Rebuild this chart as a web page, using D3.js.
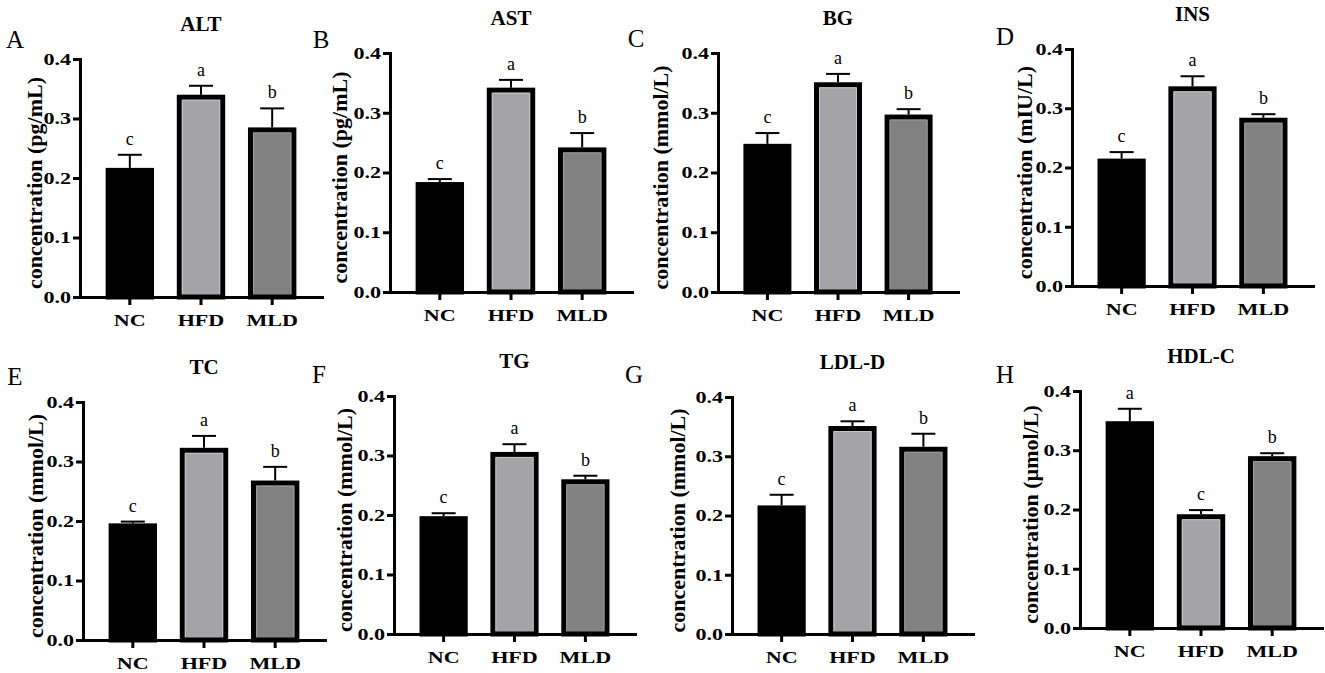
<!DOCTYPE html>
<html>
<head>
    <meta charset="utf-8">
    <title>Serum indices</title>
    <script src="https://d3js.org/d3.v7.min.js"></script>
    <style>
        body { margin: 0; background: #fff; }
        svg { display: block; }
        text { font-family: "Liberation Serif", "Times New Roman", serif; fill: #000; }
        .title { font-size: 21px; font-weight: bold; text-anchor: middle; }
        .ylabel { font-size: 22px; font-weight: bold; text-anchor: middle; }
        .panel-letter { font-size: 25px; text-anchor: middle; }
        .sig { font-size: 18px; text-anchor: middle; }
    </style>
</head>
<body>
    <svg width="1325" height="673"></svg>
    <script>
        // 数据
        const groups = ["NC", "HFD", "MLD"];
        const titles = ["ALT", "AST", "BG", "INS", "TC", "TG", "LDL-D", "HDL-C"];
        const panelLetters = ["A", "B", "C", "D", "E", "F", "G", "H"];
        const units = ["pg/mL", "pg/mL", "mmol/L", "mIU/L", "mmol/L", "mmol/L", "mmol/L", "µmol/L"];
        const yTicks = [0, 0.1, 0.2, 0.3, 0.4];
        const means = [
            [0.217, 0.340, 0.285],
            [0.184, 0.342, 0.242],
            [0.248, 0.351, 0.297],
            [0.215, 0.337, 0.284],
            [0.196, 0.323, 0.268],
            [0.198, 0.306, 0.260],
            [0.217, 0.351, 0.316],
            [0.349, 0.192, 0.290]
        ];
        const errs = [
            [0.022, 0.015, 0.032],
            [0.005, 0.013, 0.024],
            [0.018, 0.014, 0.009],
            [0.011, 0.017, 0.006],
            [0.003, 0.020, 0.023],
            [0.005, 0.013, 0.006],
            [0.018, 0.008, 0.022],
            [0.021, 0.007, 0.005]
        ];
        const sigLetters = [
            ["c", "a", "b"], ["c", "a", "b"], ["c", "a", "b"], ["c", "a", "b"],
            ["c", "a", "b"], ["c", "a", "b"], ["c", "a", "b"], ["a", "c", "b"]
        ];

        // 版面位置: y轴x, 0.4处y, 0处y, x轴末端, 面板字母位置, y标题偏移
        const layout = [
            { ax: 80,   top: 59,  bottom: 297, end: 322,  lx: 15,   ly: 48,  labDx: -46 },
            { ax: 390,  top: 53,  bottom: 292, end: 632,  lx: 321,  ly: 48,  labDx: -51 },
            { ax: 718,  top: 53,  bottom: 292, end: 958,  lx: 636,  ly: 47,  labDx: -58 },
            { ax: 1072, top: 49,  bottom: 286, end: 1313, lx: 1005, ly: 45,  labDx: -48 },
            { ax: 83,   top: 402, bottom: 640, end: 325,  lx: 15,   ly: 385, labDx: -48 },
            { ax: 394,  top: 396, bottom: 634, end: 635,  lx: 319,  ly: 383, labDx: -50 },
            { ax: 732,  top: 397, bottom: 634, end: 973,  lx: 634,  ly: 383, labDx: -55 },
            { ax: 1080, top: 391, bottom: 628, end: 1322, lx: 1005, ly: 383, labDx: -50 }
        ];

        const fills = { NC: "#000000", HFD: "#a4a4a8", MLD: "#818181" };
        const inner = { NC: "#000000", HFD: "#c6c6c8", MLD: "#9c9c9c" };
        const stretch = 1.3; // 原图文字横向拉伸

        const svg = d3.select("svg");

        titles.forEach((title, i) => {
            const L = layout[i];
            const g = svg.append("g");

            const y = d3.scaleLinear().domain([0, 0.4]).range([L.bottom, L.top]);
            const x = d3.scaleBand().domain(groups)
                .range([L.ax, L.end])
                .paddingInner(0.32)
                .paddingOuter(0.36);

            const rows = groups.map((gname, j) => ({
                g: gname, v: means[i][j], e: errs[i][j], s: sigLetters[i][j]
            }));
            const cx = d => x(d.g) + x.bandwidth() / 2;

            // 误差线
            const cap = 12;
            g.selectAll("line.err").data(rows).enter().append("line")
                .attr("x1", cx).attr("x2", cx)
                .attr("y1", d => y(d.v))
                .attr("y2", d => y(d.v + d.e))
                .attr("stroke", "#000").attr("stroke-width", 2);
            g.selectAll("line.cap").data(rows).enter().append("line")
                .attr("x1", d => cx(d) - cap)
                .attr("x2", d => cx(d) + cap)
                .attr("y1", d => y(d.v + d.e))
                .attr("y2", d => y(d.v + d.e))
                .attr("stroke", "#000").attr("stroke-width", 2);

            // 柱子
            g.selectAll("rect.bar").data(rows).enter().append("rect")
                .attr("x", d => x(d.g) + 2.5)
                .attr("y", d => y(d.v) + 2.5)
                .attr("width", x.bandwidth() - 5)
                .attr("height", d => y(0) - y(d.v) - 2.5)
                .attr("fill", d => fills[d.g])
                .attr("stroke", "#000")
                .attr("stroke-width", 5);
            // 内侧浅色描边(底边不画)
            g.selectAll("path.inner").data(rows.filter(d => d.g !== "NC")).enter().append("path")
                .attr("d", d => {
                    const x0 = x(d.g) + 5.5, x1 = x(d.g) + x.bandwidth() - 5.5;
                    const y0 = y(d.v) + 5.5, yb = y(0) - 3;
                    return `M${x0},${yb}V${y0}H${x1}V${yb}`;
                })
                .attr("fill", "none")
                .attr("stroke", d => inner[d.g])
                .attr("stroke-width", 1);

            // 显著性字母
            g.selectAll("text.sig").data(rows).enter().append("text")
                .attr("class", "sig")
                .attr("x", cx)
                .attr("y", d => y(d.v + d.e) - 10)
                .text(d => d.s);

            // 坐标轴
            const yAxis = g.append("g")
                .attr("transform", `translate(${L.ax},0)`)
                .call(d3.axisLeft(y).tickValues(yTicks).tickFormat(d3.format(".1f"))
                    .tickSize(7).tickSizeOuter(0).tickPadding(2));
            const xAxis = g.append("g")
                .attr("transform", `translate(0,${L.bottom})`)
                .call(d3.axisBottom(x).tickSize(8).tickSizeOuter(0).tickPadding(9));
            [yAxis, xAxis].forEach(a => {
                a.attr("font-family", null).attr("font-size", null);
                a.select(".domain").attr("stroke-width", 3).attr("stroke-linecap", "square");
                a.selectAll(".tick line").attr("stroke-width", 3);
                a.selectAll(".tick text")
                    .attr("font-size", 17)
                    .attr("font-weight", "bold")
                    .each(function () {
                        const w = this.getComputedTextLength();
                        d3.select(this).attr("textLength", w * stretch)
                            .attr("lengthAdjust", "spacingAndGlyphs");
                    });
            });

            // 标题
            g.append("text").attr("class", "title")
                .attr("x", cx(rows[1]))
                .attr("y", L.top - 28)
                .text(title);

            // y轴标题
            const cy = (L.top + L.bottom) / 2 + 5;
            g.append("text").attr("class", "ylabel")
                .attr("transform", `translate(${L.ax + L.labDx},${cy}) rotate(-90)`)
                .attr("dy", "0.35em")
                .text(`concentration (${units[i]})`);

            // 面板字母
            g.append("text").attr("class", "panel-letter")
                .attr("x", L.lx).attr("y", L.ly)
                .text(panelLetters[i]);
        });
    </script>
</body>
</html>
